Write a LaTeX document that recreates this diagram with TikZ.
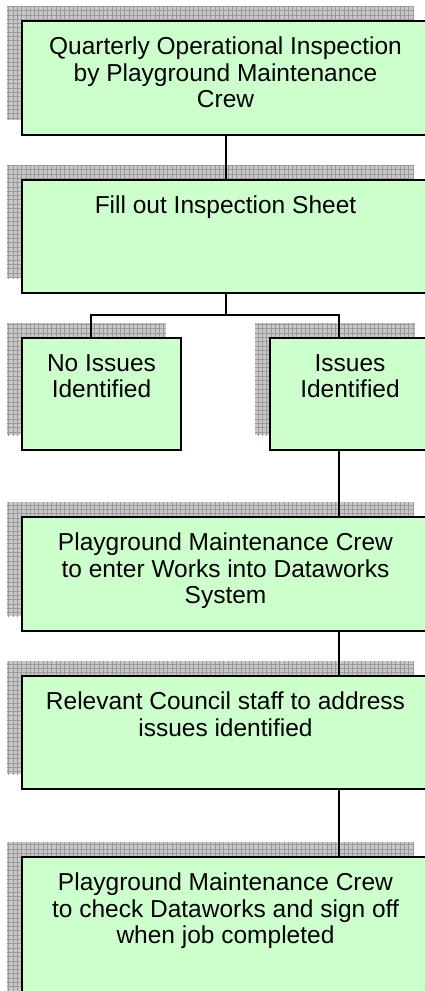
\documentclass[tikz,border=0pt]{standalone}
\usepackage{fontspec}
\setmainfont{Liberation Sans}
\usetikzlibrary{positioning,fit,shadows,patterns.meta}
\definecolor{boxgreen}{HTML}{CCFFCC}
\definecolor{shadowgray}{HTML}{C8C8C8}
\definecolor{gridgray}{HTML}{9A9A9A}

\begin{document}
\begin{tikzpicture}[x=1pt,y=-1pt,
    link/.style={line width=2pt,line cap=rect},
    stepbox/.style={draw,line width=2pt,fill=boxgreen,inner sep=0pt,
        general shadow={shadow xshift=-15pt,shadow yshift=15pt,fill=shadowgray},
        general shadow={shadow xshift=-15pt,shadow yshift=15pt,pattern color=gridgray,
            pattern={Lines[angle=0,distance=4.3pt,line width=0.6pt]}},
        general shadow={shadow xshift=-15pt,shadow yshift=15pt,pattern color=gridgray,
            pattern={Lines[angle=90,distance=4.3pt,line width=0.6pt]}}},
    steptext/.style={anchor=north,align=center,inner sep=0pt,
        font=\fontsize{24.5}{26.5}\selectfont}]
    \useasboundingbox (0,0) rectangle (425,991);
    \clip (0,0) rectangle (425,991);

    \node[stepbox,fit={(22,21) (429,135)}] (insp) {};
    \node[stepbox,fit={(22,180) (429,293)}] (sheet) {};
    \node[stepbox,fit={(22,338) (181,450)}] (noissue) {};
    \node[stepbox,fit={(270,338) (430,450)}] (issue) {};
    \node[stepbox,fit={(22,517) (429,631)}] (enter) {};
    \node[stepbox,fit={(22,676) (429,789)}] (address) {};
    \node[stepbox,fit={(22,857) (429,1010)}] (signoff) {};

    \node[steptext,below=17pt of insp.north] (insptext) {Quarterly Operational Inspection\\by Playground Maintenance\\Crew};
    \node[steptext,below=17pt of sheet.north] (sheettext) {Fill out Inspection Sheet};
    \node[steptext,below=17pt of noissue.north] (noissuetext) {No Issues\\Identified};
    \node[steptext,below=17pt of issue.north] (issuetext) {Issues\\Identified};
    \node[steptext,below=17pt of enter.north] (entertext) {Playground Maintenance Crew\\to enter Works into Dataworks\\System};
    \node[steptext,below=17pt of address.north] (addresstext) {Relevant Council staff to address\\issues identified};
    \node[steptext,below=17pt of signoff.north] (signofftext) {Playground Maintenance Crew\\to check Dataworks and sign off\\when job completed};

    % connectors
    \coordinate (leftdrop) at (91,315);
    \coordinate (rightdrop) at (339,315);
    \coordinate (split) at (sheet.south |- leftdrop);
    \draw[link] (insp.south) -- (sheet.north);
    \draw[link] (sheet.south) -- (split);
    \draw[link] (leftdrop |- noissue.north) -- (leftdrop) -- (rightdrop) -- (rightdrop |- issue.north);
    \draw[link] (rightdrop |- issue.south) -- (rightdrop |- enter.north);
    \draw[link] (rightdrop |- enter.south) -- (rightdrop |- address.north);
    \draw[link] (rightdrop |- address.south) -- (rightdrop |- signoff.north);
\end{tikzpicture}
\end{document}
